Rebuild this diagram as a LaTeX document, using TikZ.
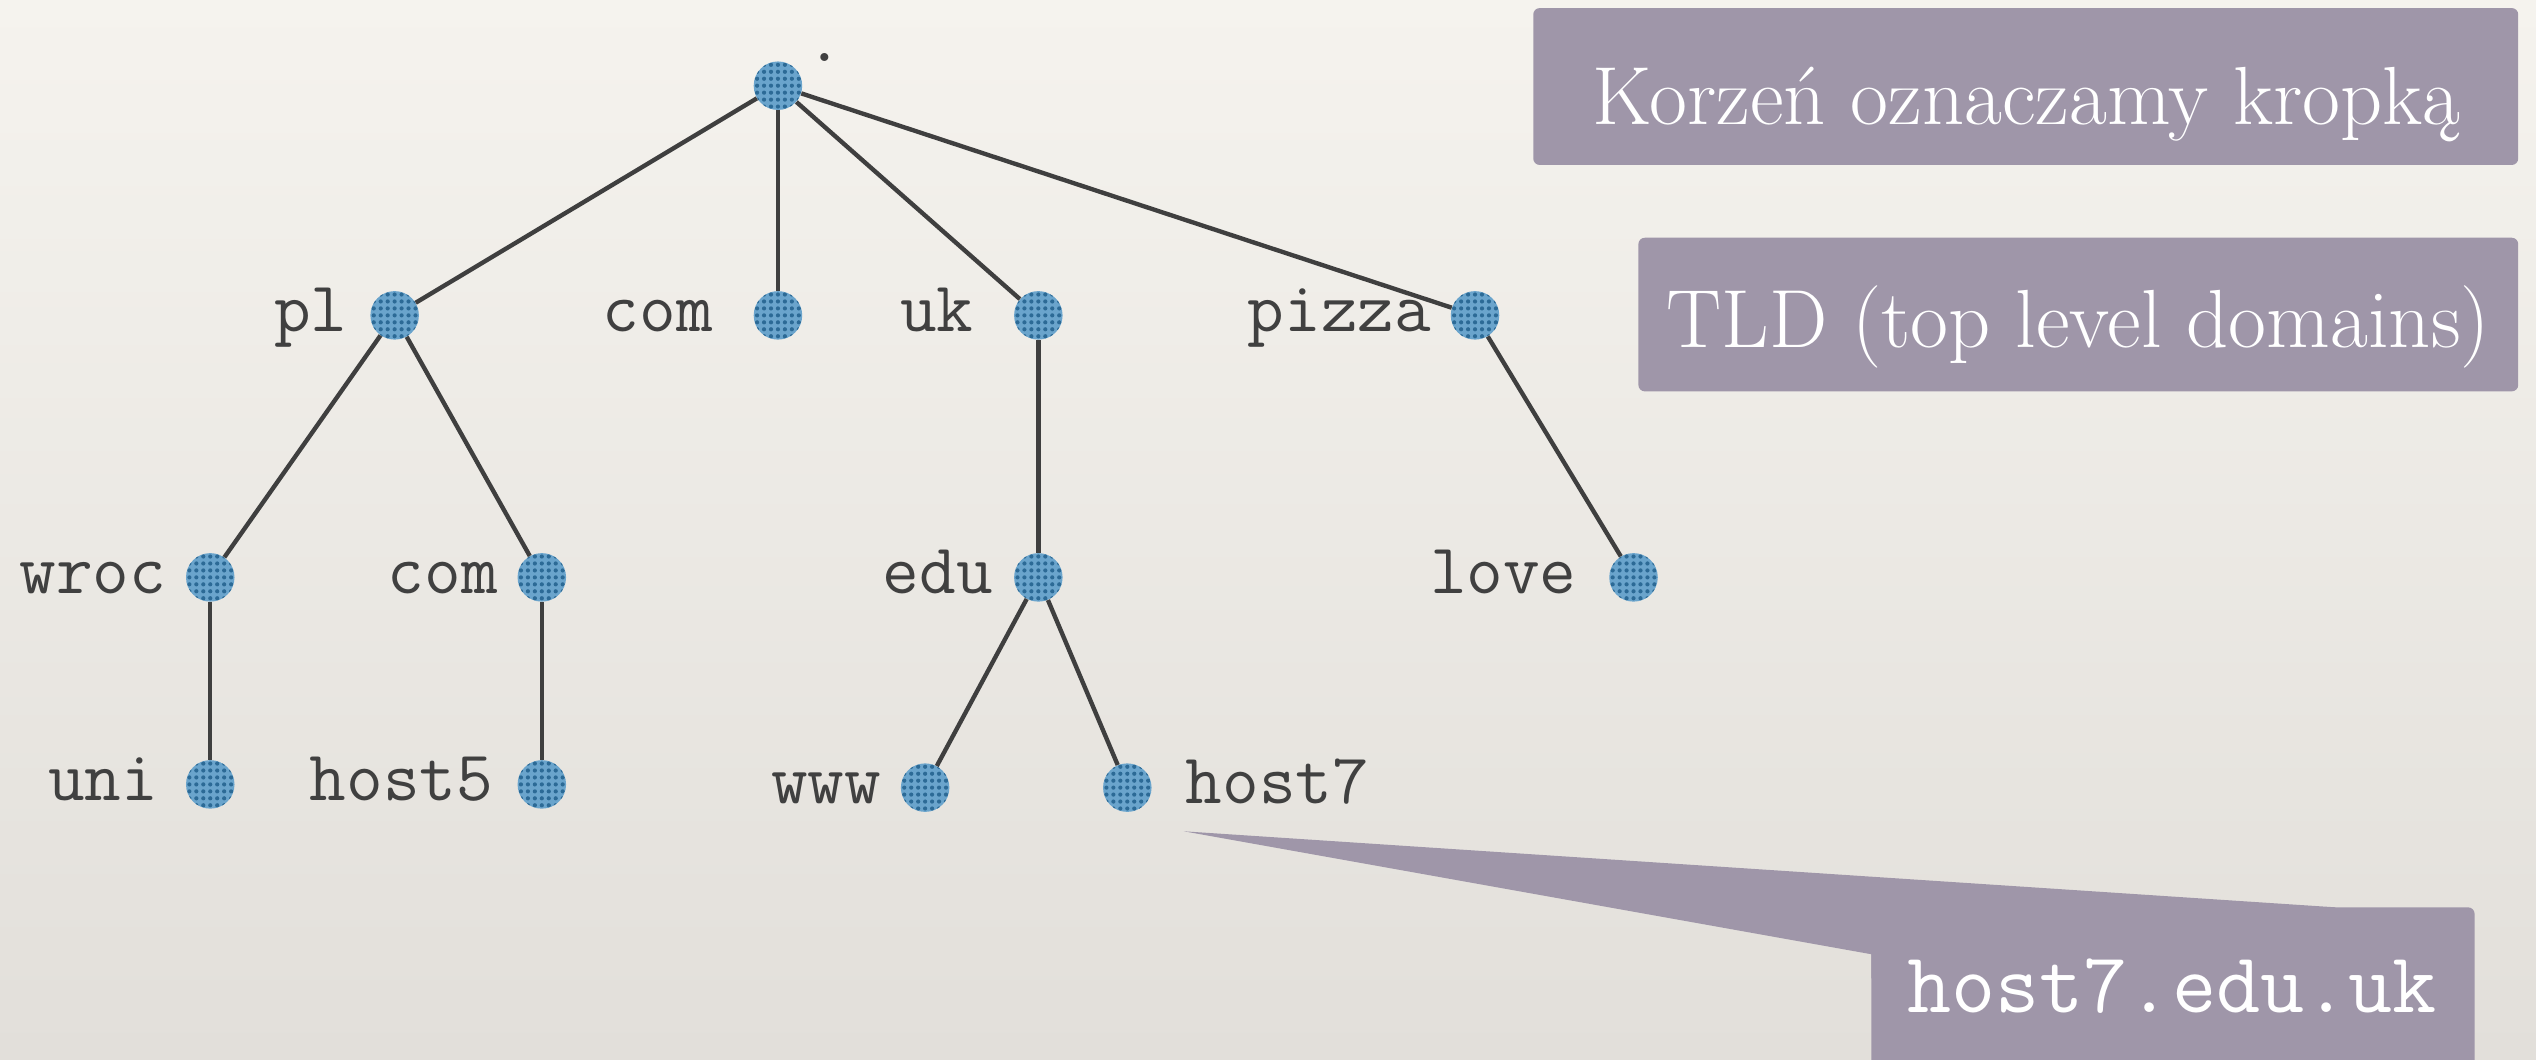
\documentclass[tikz,border=0pt]{standalone}
\usepackage{fontspec}

\definecolor{paperTop}{RGB}{245,243,238}
\definecolor{paperBot}{RGB}{226,223,218}
\definecolor{lineGray}{RGB}{63,63,63}
\definecolor{textGray}{RGB}{64,64,64}
\definecolor{nodeBlue}{RGB}{106,164,204}
\definecolor{dotBlue}{RGB}{44,106,150}
\definecolor{boxPurple}{RGB}{159,150,169}

\newcommand\labelfont{\fontsize{44}{48}\ttfamily\selectfont\addfontfeatures{FakeBold=1.8}}
\newcommand\rootfont{\fontsize{44}{48}\ttfamily\selectfont\addfontfeatures{FakeBold=4}}
\newcommand\notefont{\fontsize{51}{56}\rmfamily\selectfont}
\newcommand\domainfont{\fontsize{53}{57}\ttfamily\selectfont\addfontfeatures{FakeBold=1.0}}

\tikzset{
  dnsnode/.style={circle, inner sep=0pt, minimum size=30pt, fill=nodeBlue,
    path picture={
      \foreach \i in {-4,...,4}{\foreach \j in {-4,...,4}{
        \fill[dotBlue, shift={(path picture bounding box.center)}, rotate=20]
          (\i*4.3,\j*4.3) circle (1.3);}}}},
  link/.style={draw=lineGray, line width=2.7pt},
  lbl/.style={text=textGray, font=\labelfont, inner sep=0pt},
  note/.style={text=white, font=\notefont, inner sep=0pt},
  notebox/.style={fill=boxPurple, rounded corners=4pt},
}

\begin{document}
\begin{tikzpicture}[x=1pt, y=1pt]
  % paper background
  \shade[top color=paperTop, bottom color=paperBot] (0,0) rectangle (1568,655);
  \useasboundingbox (0,0) rectangle (1568,655);

  % tree nodes
  \node[dnsnode] (root)  at (481,602) {};
  \node[dnsnode] (pl)    at (244,460) {};
  \node[dnsnode] (com)   at (481,460) {};
  \node[dnsnode] (uk)    at (642,460) {};
  \node[dnsnode] (pizza) at (912,460) {};
  \node[dnsnode] (wroc)  at (130,298) {};
  \node[dnsnode] (plcom) at (335,298) {};
  \node[dnsnode] (edu)   at (642,298) {};
  \node[dnsnode] (love)  at (1010,298) {};
  \node[dnsnode] (uni)   at (130,170) {};
  \node[dnsnode] (host5) at (335,170) {};
  \node[dnsnode] (www)   at (572,168) {};
  \node[dnsnode] (host7) at (697,168) {};

  % connectors
  \draw[link] (root) -- (pl);
  \draw[link] (root) -- (com);
  \draw[link] (root) -- (uk);
  \draw[link] (root) -- (pizza);
  \draw[link] (pl) -- (wroc);
  \draw[link] (pl) -- (plcom);
  \draw[link] (uk) -- (edu);
  \draw[link] (pizza) -- (love);
  \draw[link] (wroc) -- (uni);
  \draw[link] (plcom) -- (host5);
  \draw[link] (edu) -- (www);
  \draw[link] (edu) -- (host7);

  % domain labels
  \path (root.center)  ++(29,15)   node[text=textGray, font=\rootfont, inner sep=0pt, anchor=base] (rootL) {.};
  \path (pl.center)    ++(-29,-10) node[lbl, anchor=base east] (plL) {pl};
  \path (com.center)   ++(-40,-10) node[lbl, anchor=base east] (comL) {com};
  \path (uk.center)    ++(-40,-10) node[lbl, anchor=base east] (ukL) {uk};
  \path (pizza.center) ++(-27,-10) node[lbl, anchor=base east] (pizzaL) {pizza};
  \path (wroc.center)  ++(-27,-10) node[lbl, anchor=base east] (wrocL) {wroc};
  \path (plcom.center) ++(-27,-10) node[lbl, anchor=base east] (plcomL) {com};
  \path (edu.center)   ++(-28,-10) node[lbl, anchor=base east] (eduL) {edu};
  \path (love.center)  ++(-35,-10) node[lbl, anchor=base east] (loveL) {love};
  \path (uni.center)   ++(-32,-10) node[lbl, anchor=base east] (uniL) {uni};
  \path (host5.center) ++(-30,-10) node[lbl, anchor=base east] (host5L) {host5};
  \path (www.center)   ++(-27,-10) node[lbl, anchor=base east] (wwwL) {www};
  \path (host7.center) ++(36,-10)  node[lbl, anchor=base west] (host7L) {host7};

  % note boxes
  \fill[notebox] (948,553) rectangle (1557,650);
  \node[note, anchor=base] (rootnote) at (1253,578) {Korzeń oznaczamy kropką};
  \fill[notebox] (1013,413) rectangle (1557,508);
  \node[note, anchor=base] (tldnote) at (1285,440) {TLD (top level domains)};

  % callout pointing at host7
  \coordinate (tip) at (732,141);
  \fill[boxPurple] (tip) -- (1444,94) -- (1444,50) -- (1157,50) -- (1157,65) -- cycle;
  \fill[notebox] (1157,-20) rectangle (1530,94);
  \node[text=white, font=\domainfont, inner sep=0pt, anchor=base] (fqdn) at (1343,29) {host7.edu.uk};
\end{tikzpicture}
\end{document}
